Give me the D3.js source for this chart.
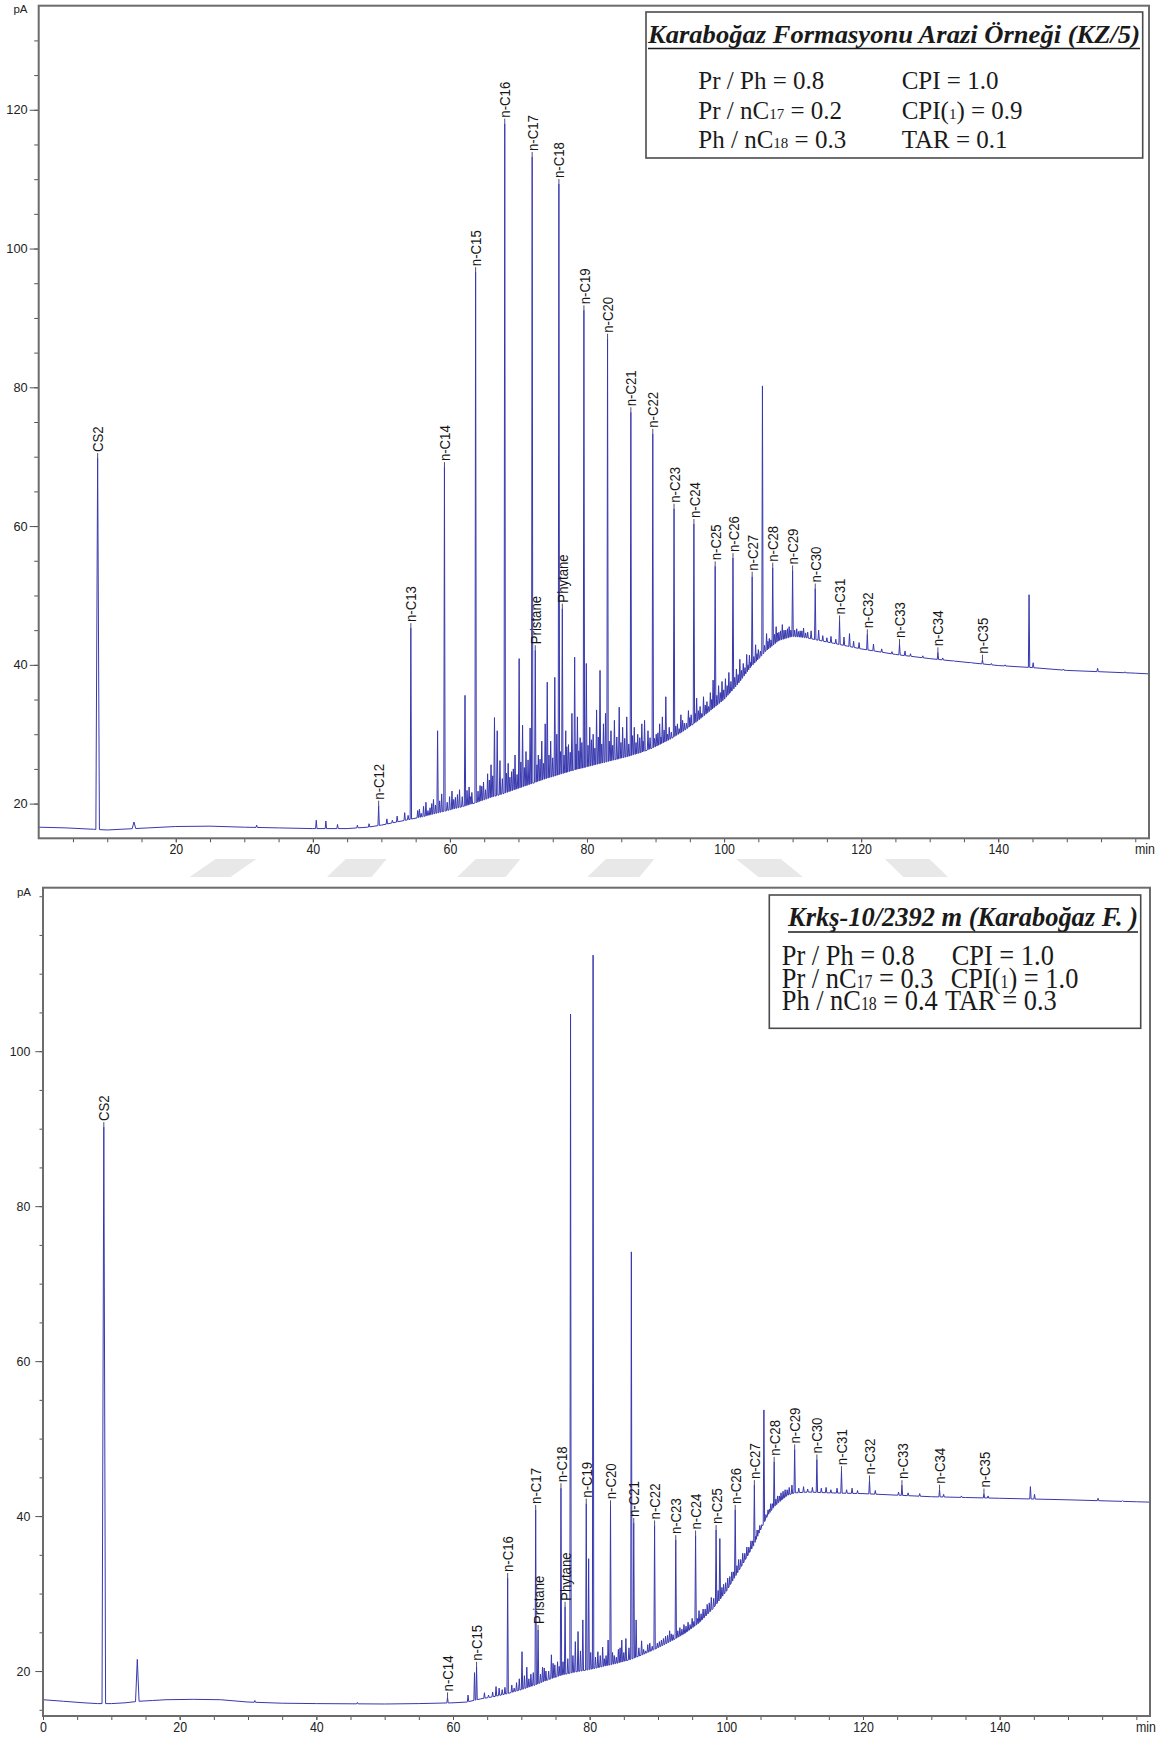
<!DOCTYPE html>
<html>
<head>
<meta charset="utf-8">
<script src="https://cdn.jsdelivr.net/npm/d3@7"></script>
<style>
  html, body { margin: 0; background: #fff; }
  svg { display: block; }
  .tick text { fill: #222; }
</style>
</head>
<body>
<svg id="chart" width="1158" height="1742"></svg>
<script>
// ---------------------------------------------------------------
// Retention-time axis (min) and signal axis (pA) tick labels
// ---------------------------------------------------------------
const upperTimeLabels = [20, 40, 60, 80, 100, 120, 140];
const lowerTimeLabels = [0, 20, 40, 60, 80, 100, 120, 140];
const upperSignalLabels = [20, 40, 60, 80, 100, 120];
const lowerSignalLabels = [20, 40, 60, 80, 100];

// ---------------------------------------------------------------
// Upper chromatogram: Karaboğaz Formasyonu, KZ/5
// ---------------------------------------------------------------
// baseline / unresolved hump  [time (min), signal (pA)]
const upperBaseline = [
  [0,16.6],[4,16.5],[8,16.3],[10,16.2],[12,16.3],[16,16.5],[20,16.7],[25,16.75],[30,16.6],
  [35,16.5],[40,16.4],[45,16.4],[48,16.6],[50,16.9],[52,17.3],[54,17.7],[56,18.1],[58,18.6],
  [60,19.1],[62,19.6],[64,20.2],[66,20.9],[68,21.5],[70,22.2],[72,22.9],[74,23.6],[76,24.2],
  [78,24.8],[80,25.3],[82,25.8],[84,26.3],[86,26.8],[88,27.4],[90,28.2],[92,29.2],[94,30.4],
  [96,31.8],[98,33.4],[100,35.0],[102,37.2],[104,39.8],[105,40.8],[106,41.9],[108,43.5],
  [110,44.1],[112,43.9],[114,43.5],[116,43.1],[118,42.7],[120,42.3],[125,41.5],[130,40.9],
  [135,40.4],[140,39.9],[145,39.6],[150,39.2],[155,39.0],[160,38.8],[162,38.7]
];
// identified peaks
const upperPeakNames = ["CS2","n-C12","n-C13","n-C14","n-C15","n-C16","n-C17","Pristane","n-C18","Phytane",
  "n-C19","n-C20","n-C21","n-C22","n-C23","n-C24","n-C25","n-C26","n-C27","n-C28","n-C29","n-C30",
  "n-C31","n-C32","n-C33","n-C34","n-C35"];
const upperPeakTimes = [8.6,49.6,54.3,59.2,63.75,68.0,72.0,72.45,75.9,76.4,
  79.55,83.0,86.4,89.6,92.7,95.6,98.7,101.3,104.1,107.1,110.0,113.3,
  116.85,120.9,125.6,131.2,137.7];
const upperPeakHeights = [69.8,19.7,45.3,68.5,96.6,118.0,113.2,42.1,109.3,48.1,
  91.1,87.0,76.4,73.3,62.5,60.3,54.2,55.4,52.7,54.0,53.6,51.0,
  46.4,44.4,43.0,41.8,40.75];
// unidentified peaks  [time, apex]
const upperOtherPeaks = [
  [13.9,17.35],[31.8,16.9],[40.5,17.6],[41.9,17.5],[43.6,17.0],[46.5,16.9],[48.2,17.1],
  [50.8,17.8],[51.6,17.6],[52.3,18.2],[53.4,18.7],[53.9,18.3],[55.3,19.0],[55.8,18.6],
  [56.5,20.2],[57.1,19.4],[57.6,20.6],[58.2,30.5],[58.8,21.4],[59.6,20.2],[60.3,21.8],
  [60.8,20.9],[61.4,22.0],[62.2,35.6],[62.8,22.4],[63.2,21.6],[64.4,22.6],[64.9,23.1],
  [65.5,24.3],[66.0,25.6],[66.5,32.4],[66.9,30.5],[67.3,26.2],[68.5,25.8],[69.0,24.6],
  [69.5,27.0],[70.1,40.9],[70.6,31.3],[71.1,27.5],[71.7,30.9],[72.9,27.0],[73.4,29.0],
  [73.9,31.5],[74.2,37.5],[74.7,29.0],[75.3,38.2],[75.6,30.0],[76.9,30.5],[77.3,28.5],
  [77.8,33.0],[78.2,41.1],[78.6,32.5],[79.0,29.5],[79.9,40.2],[80.4,31.0],[80.9,30.0],
  [81.4,33.5],[81.9,39.2],[82.4,31.5],[82.7,33.0],[83.5,30.5],[84.0,32.0],[84.7,33.9],
  [85.2,31.0],[85.8,32.5],[86.9,31.0],[87.4,30.0],[88.0,31.5],[88.4,32.0],[88.9,30.5],
  [89.2,29.5],[90.1,30.0],[90.6,31.5],[91.0,32.5],[91.5,35.4],[92.0,31.0],[92.3,30.3],
  [93.2,31.5],[93.7,32.8],[94.2,31.6],[94.8,33.4],[95.2,32.8],[96.0,35.2],[96.5,34.0],
  [97.0,35.4],[97.5,34.7],[98.0,36.0],[98.4,37.8],[99.2,37.0],[99.7,37.6],[100.2,38.0],
  [100.7,38.9],[101.8,39.4],[102.3,40.8],[102.8,40.2],[103.3,41.5],[103.7,41.4],
  [104.6,42.9],[105.0,42.2],[105.6,80.2],[106.2,44.5],[106.6,43.8],[107.6,45.5],[108.0,44.7],
  [108.5,45.8],[109.0,45.0],[109.5,45.5],[110.6,45.2],[111.1,44.9],[111.6,45.3],[112.2,44.7],
  [112.7,44.9],[113.8,45.0],[114.4,44.2],[115.0,43.9],[115.6,44.1],[116.3,43.7],[117.5,44.0],
  [118.3,44.5],[118.9,43.4],[119.7,43.2],[121.8,43.0],[123.0,42.3],[124.5,41.9],[126.4,42.0],
  [127.2,41.6],[129.0,41.3],[131.9,41.0],[133.5,40.6],[136.0,40.4],[139.0,40.2],[141.0,40.0],
  [144.5,50.1],[145.1,40.3],[149.5,39.4],[154.5,39.5],[158.5,39.0]
];
// small unresolved components riding on the hump
const upperHumpPeaks = [
  [55.55,19.2],[56.15,19.6],[56.8,19.0],[57.35,20.0],[57.9,19.8],[58.5,20.4],[59.95,21.0],
  [60.55,20.6],[61.1,21.3],[61.8,21.0],[62.5,21.9],[63.0,21.0],[64.1,21.8],[64.65,22.5],
  [65.2,22.0],[65.75,23.4],[66.25,24.0],[67.65,23.6],[68.25,24.4],[68.75,23.8],[69.25,25.0],
  [69.8,24.2],[70.35,26.0],[70.85,25.2],[71.4,26.3],[72.7,25.6],[73.15,26.4],[73.65,25.8],
  [74.45,27.0],[75.0,26.6],[76.15,27.5],[76.65,27.0],[77.05,28.2],[77.55,27.4],[78.4,28.6],
  [78.8,27.6],[79.25,28.8],[80.15,28.4],[80.65,29.2],[81.15,28.0],[81.65,29.6],[82.15,28.6],
  [83.25,29.0],[83.75,28.4],[84.35,29.6],[84.95,28.8],[85.5,29.4],[86.1,28.6],[86.65,29.8],
  [87.15,28.8],[87.7,29.5],[88.2,29.0],[89.85,29.4],[90.35,30.2],[90.8,29.6],[91.25,30.6],
  [91.75,30.0],[92.95,31.2],[93.45,30.8],[93.95,32.0],[94.5,31.6],[95.0,32.4],[95.8,33.0],
  [96.25,33.4],[96.75,33.0],[97.25,34.2],[97.75,34.0],[98.2,35.0],[98.95,35.6],[99.45,36.0],
  [99.95,36.4],[100.45,37.0],[101.0,37.6],[101.55,38.2],[102.05,38.6],[102.55,39.2],
  [103.05,39.6],[103.5,40.0],[103.9,40.4],[104.35,41.2],[104.8,41.6],[105.3,42.0],[105.9,42.8],
  [106.4,43.4],[106.85,43.6],[107.35,44.4],[107.8,44.6],[108.25,44.9],[108.75,45.0],
  [109.25,45.2],[109.75,45.0],[110.3,45.0],[110.85,44.8],[111.35,44.9],[111.9,44.6]
];
const upperNoteTitle = "Karaboğaz Formasyonu Arazi Örneği (KZ/5)";
const upperNoteRows = [
  ["Pr / Ph = 0.8", "CPI = 1.0"],
  ["Pr / nC_17 = 0.2", "CPI(_1) = 0.9"],
  ["Ph / nC_18 = 0.3", "TAR = 0.1"]
];

// ---------------------------------------------------------------
// Lower chromatogram: Krkş-10 well, 2392 m
// ---------------------------------------------------------------
const lowerBaseline = [
  [0,16.3],[3,16.1],[6,15.9],[8,15.8],[10,15.8],[12,15.9],[14,16.1],[16,16.2],[18,16.3],
  [22,16.35],[26,16.3],[30,16.0],[35,15.85],[40,15.8],[50,15.75],[55,15.8],[60,15.9],
  [62,16.0],[64,16.4],[66,16.7],[68,17.1],[70,17.6],[72,18.2],[74,18.9],[76,19.5],[78,19.9],
  [80,20.2],[82,20.6],[84,21.0],[86,21.5],[88,22.2],[90,23.0],[92,23.9],[94,24.9],[96,26.2],
  [98,28.0],[100,30.3],[102,33.2],[104,36.2],[105,38.2],[106,40.0],[107,41.2],[108,42.0],
  [109,42.7],[110,43.0],[112,43.1],[115,43.0],[120,42.9],[125,42.7],[130,42.5],[135,42.4],
  [140,42.3],[150,42.1],[160,41.85],[162,41.8]
];
const lowerPeakNames = ["CS2","n-C14","n-C15","n-C16","n-C17","Pristane","n-C18","Phytane",
  "n-C19","n-C20","n-C21","n-C22","n-C23","n-C24","n-C25","n-C26","n-C27","n-C28","n-C29",
  "n-C30","n-C31","n-C32","n-C33","n-C34","n-C35"];
const lowerPeakTimes = [8.9,59.2,63.45,68.0,72.1,72.45,75.8,76.4,
  79.5,83.05,86.45,89.5,92.6,95.5,98.5,101.3,104.1,107.0,110.0,
  113.25,116.85,120.95,125.7,131.2,137.7];
const lowerPeakHeights = [90.2,16.6,20.55,32.0,40.8,25.3,43.6,28.3,
  41.6,41.4,39.1,38.8,36.9,37.5,38.2,40.8,44.0,47.0,48.6,
  47.3,45.8,44.6,44.0,43.4,42.9];
const lowerOtherPeaks = [
  [13.8,21.5],[31.0,16.2],[46.0,15.95],[62.2,16.9],[63.15,19.8],[65.8,17.3],[66.3,18.0],
  [67.2,17.6],[69.3,18.5],[70.1,22.5],[70.8,20.5],[71.4,19.6],[73.1,20.5],[73.6,20.0],
  [74.4,22.1],[74.9,20.8],[75.3,21.2],[77.2,104.8],[77.9,23.8],[78.3,25.1],[79.0,26.6],
  [79.85,34.5],[80.5,112.4],[81.2,22.5],[81.9,23.1],[82.4,22.0],[82.7,24.0],[83.6,22.0],
  [84.2,22.8],[84.7,24.0],[85.3,24.2],[85.75,23.0],[86.1,74.1],[86.8,26.6],[87.6,23.9],
  [88.2,22.6],[88.8,23.6],[89.9,23.6],[90.5,24.0],[91.1,24.5],[91.7,25.2],[92.2,24.7],
  [93.2,25.6],[93.8,26.0],[94.4,26.3],[95.0,26.8],[96.0,27.8],[96.6,28.0],[97.2,28.6],
  [97.8,29.5],[99.05,37.1],[99.6,31.2],[100.2,32.0],[100.8,32.8],[101.8,34.4],[102.4,35.2],
  [103.0,36.0],[103.6,36.8],[104.5,38.2],[104.9,38.8],[105.5,53.7],[106.1,40.8],[106.5,41.6],
  [107.5,42.6],[108.0,43.0],[108.6,43.4],[109.2,43.7],[109.6,44.0],[110.6,43.6],[111.3,43.8],
  [111.9,43.5],[112.6,43.7],[113.9,43.6],[114.6,43.7],[115.3,43.4],[116.2,43.6],[117.6,43.4],
  [118.4,43.6],[119.2,43.3],[121.8,43.3],[125.2,43.1],[126.6,43.0],[128.3,42.9],[131.8,42.8],
  [134.4,42.6],[138.3,42.6],[144.5,43.8],[145.1,42.8],[154.4,42.3],[158.0,42.0]
];
const lowerHumpPeaks = [
  [64.6,17.2],[65.2,16.9],[66.75,17.8],[67.6,17.9],[68.6,18.2],[68.95,17.8],[69.7,19.0],
  [70.45,19.4],[71.1,19.0],[71.75,19.8],[72.8,19.6],[73.35,20.4],[74.0,20.0],[74.65,21.0],
  [75.55,20.6],[76.1,21.2],[76.8,21.6],[77.55,22.0],[78.65,22.6],[80.15,22.4],[80.85,21.8],
  [81.55,22.0],[82.15,21.6],[83.35,22.4],[83.9,21.8],[84.45,23.0],[85.0,22.4],[87.2,23.0],
  [87.9,22.8],[88.5,23.4],[89.15,23.2],[90.2,23.8],[90.8,24.2],[91.4,24.6],[91.95,24.8],
  [92.9,25.2],[93.5,25.4],[94.1,25.8],[94.7,26.0],[95.25,26.4],[95.75,26.8],[96.3,27.4],
  [96.9,28.0],[97.5,28.8],[98.15,29.4],[98.8,30.4],[99.35,30.8],[99.9,31.4],[100.5,32.2],
  [101.05,32.8],[101.55,33.6],[102.1,34.4],[102.7,35.2],[103.3,36.0],[103.85,36.8],
  [104.3,37.4],[104.7,38.2],[105.2,38.9],[105.8,40.2],[106.3,40.9],[106.75,41.6],
  [107.25,42.2],[107.75,42.6],[108.3,43.2],[108.9,43.4]
];
const lowerNoteTitle = "Krkş-10/2392 m (Karaboğaz F. )";
const lowerNoteRows = [
  ["Pr / Ph = 0.8", "CPI = 1.0"],
  ["Pr / nC_17 = 0.3", "CPI(_1) = 1.0"],
  ["Ph / nC_18 = 0.4", "TAR = 0.3"]
];

// ---------------------------------------------------------------
// Drawing
// ---------------------------------------------------------------
const svg = d3.select("#chart");
const SANS = "'Liberation Sans', Arial, Helvetica, sans-serif";
const SERIF = "'Liberation Serif', 'Times New Roman', Times, serif";
const TRACE = "#3838ae";

// faint light-grey chevrons in the gap between the two panels
const bandShapes = [
  [[189.6,877],[230.5,877],[256.5,859],[215.6,859]],
  [[327,877],[371.7,877],[386.6,859],[345.7,859]],
  [[457.2,877],[505.6,877],[520.4,859],[475.8,859]],
  [[587.4,877],[639.4,877],[654.3,859],[606,859]],
  [[758.4,877],[803,877],[780.7,859],[736,859]],
  [[903.3,877],[948,877],[929.4,859],[884.8,859]]
];
svg.append("g").selectAll("polygon").data(bandShapes).join("polygon")
  .attr("points", d => d.map(p => p.join(",")).join(" "))
  .attr("fill", "#e8e8e8");

// signal of the baseline table at time t (straight segments between listed points)
function baselineAt(table, t) {
  const i = d3.bisector(d => d[0]).left(table, t);
  if (i <= 0) return table[0][1];
  if (i >= table.length) return table[table.length - 1][1];
  const a = table[i - 1], b = table[i];
  return a[1] + (b[1] - a[1]) * (t - a[0]) / (b[0] - a[0]);
}

// trace vertices: baseline points plus a narrow spike for every peak
function buildTrace(baseline, peaks) {
  const half = p => (p[0] < 20 ? 0.26 : 0.1);
  const pts = baseline.filter(([t]) => !peaks.some(p => Math.abs(t - p[0]) < half(p)));
  peaks.forEach(p => {
    const h = half(p);
    pts.push([p[0] - h, baselineAt(baseline, p[0] - h)], [p[0], p[1]], [p[0] + h, baselineAt(baseline, p[0] + h)]);
  });
  return pts.sort((a, b) => a[0] - b[0]);
}

function drawPanel(cfg) {
  const x = d3.scaleLinear().domain([0, 162]).range([cfg.left, cfg.right]);
  const y = d3.scaleLinear().domain(cfg.yDomain).range([cfg.bottom, cfg.top]);
  const g = svg.append("g");

  g.append("clipPath").attr("id", "clip-" + cfg.id)
    .append("rect").attr("x", cfg.left).attr("y", cfg.top)
    .attr("width", cfg.right - cfg.left).attr("height", cfg.bottom - cfg.top);

  // chromatogram trace
  const named = cfg.names.map((n, i) => [cfg.times[i], cfg.heights[i]]);
  const trace = buildTrace(cfg.baseline, named.concat(cfg.others, cfg.hump));
  g.append("path").datum(trace)
    .attr("clip-path", `url(#clip-${cfg.id})`)
    .attr("fill", "none").attr("stroke", TRACE).attr("stroke-width", 1)
    .attr("d", d3.line().x(d => x(d[0])).y(d => y(d[1])));

  // time axis: minor ticks every 5 min, labels every 20 min
  const xMinor = g.append("g").attr("transform", `translate(0,${cfg.bottom})`)
    .call(d3.axisBottom(x).tickValues(d3.range(5, 161, 5)).tickSize(4).tickFormat(""));
  const xMajor = g.append("g").attr("transform", `translate(0,${cfg.bottom})`)
    .call(d3.axisBottom(x).tickValues(cfg.xLabels).tickSize(4).tickPadding(1).tickFormat(d3.format("d")));
  [xMinor, xMajor].forEach(a => {
    a.select(".domain").remove();
    a.selectAll("line").attr("stroke", "#555");
  });
  xMajor.selectAll("text")
    .attr("font-family", SANS).attr("font-size", 15.5)
    .attr("transform", "scale(0.8,1)")
    .attr("x", 0);
  g.append("text")
    .attr("transform", `translate(${cfg.right - 4},${cfg.bottom + 16}) scale(0.8,1)`)
    .attr("text-anchor", "middle").attr("font-family", SANS).attr("font-size", 15.5)
    .attr("fill", "#222").text("min");

  // signal axis: minor ticks every 5 pA, labels every 20 pA
  const yMinor = g.append("g").attr("transform", `translate(${cfg.left},0)`)
    .call(d3.axisLeft(y).tickValues(cfg.yMinor).tickSize(cfg.minorLen).tickFormat(""));
  const yMajor = g.append("g").attr("transform", `translate(${cfg.left},0)`)
    .call(d3.axisLeft(y).tickValues(cfg.yLabels).tickSize(cfg.majorLen).tickPadding(cfg.yPad));
  [yMinor, yMajor].forEach(a => {
    a.select(".domain").remove();
    a.selectAll("line").attr("stroke", "#555");
  });
  yMajor.selectAll("text").attr("font-family", SANS).attr("font-size", cfg.yFont);
  g.append("text")
    .attr("x", cfg.unitX).attr("y", cfg.unitY)
    .attr("text-anchor", "end").attr("font-family", SANS).attr("font-size", 11.5)
    .attr("fill", "#222").text("pA");

  // frame
  g.append("rect")
    .attr("x", cfg.left).attr("y", cfg.top)
    .attr("width", cfg.right - cfg.left).attr("height", cfg.bottom - cfg.top)
    .attr("fill", "none").attr("stroke", "#6c6c6c").attr("stroke-width", 2);

  // peak names written upward from each apex
  const labels = g.append("g").selectAll("g").data(cfg.names.map((n, i) => ({ name: n, t: cfg.times[i], v: cfg.heights[i] })))
    .join("g").attr("transform", d => `translate(${x(d.t)},${y(d.v)})`);
  labels.append("line").attr("y1", 0).attr("y2", -5).attr("stroke", "#3a3a60").attr("stroke-width", 0.9);
  labels.append("text")
    .attr("transform", "translate(0,-6) rotate(-90) scale(0.85,1)")
    .attr("dy", "0.36em").attr("font-family", SANS).attr("font-size", 15.5)
    .attr("fill", "#161616").text(d => d.name);
}

// one line of the information box; "_17" marks a small index
function writeRow(sel, str, fs) {
  str.split(/(_\d+)/).filter(s => s.length).forEach(part => {
    if (part[0] === "_") sel.append("tspan").attr("font-size", fs * 0.6).text(part.slice(1));
    else sel.append("tspan").text(part);
  });
}

function drawNote(n) {
  const g = svg.append("g");
  g.append("rect").attr("x", n.box[0]).attr("y", n.box[1])
    .attr("width", n.box[2] - n.box[0]).attr("height", n.box[3] - n.box[1])
    .attr("fill", "#fff").attr("stroke", "#4b4b4b").attr("stroke-width", 1.6);
  g.append("text")
    .attr("x", n.titleX).attr("y", n.titleY)
    .attr("font-family", SERIF).attr("font-weight", "bold").attr("font-style", "italic")
    .attr("font-size", n.titleFont).attr("fill", "#1a1a1a")
    .attr("textLength", n.titleW).attr("lengthAdjust", "spacingAndGlyphs")
    .text(n.title);
  g.append("line")
    .attr("x1", n.titleX).attr("x2", n.titleX + n.titleW)
    .attr("y1", n.titleY + 6).attr("y2", n.titleY + 6)
    .attr("stroke", "#1a1a1a").attr("stroke-width", 1.6);
  n.rows.forEach((row, r) => {
    row.forEach((cell, c) => {
      const t = g.append("text")
        .attr("transform", `translate(${n.colX[r][c]},${n.rowY[r]}) scale(${n.sx},1)`)
        .attr("font-family", SERIF).attr("font-size", n.rowFont).attr("fill", "#1a1a1a");
      writeRow(t, cell, n.rowFont);
    });
  });
}

drawPanel({
  id: "upper", left: 38.7, right: 1149, top: 5.7, bottom: 838.3, yDomain: [15, 135],
  baseline: upperBaseline, names: upperPeakNames, times: upperPeakTimes, heights: upperPeakHeights,
  others: upperOtherPeaks, hump: upperHumpPeaks, xLabels: upperTimeLabels, yLabels: upperSignalLabels,
  yMinor: d3.range(20, 131, 5), majorLen: 9, minorLen: 4.5, yPad: 2, yFont: 12.8,
  unitX: 27.5, unitY: 12.5
});
drawPanel({
  id: "lower", left: 43, right: 1150, top: 887.7, bottom: 1716, yDomain: [14.2, 121.1],
  baseline: lowerBaseline, names: lowerPeakNames, times: lowerPeakTimes, heights: lowerPeakHeights,
  others: lowerOtherPeaks, hump: lowerHumpPeaks, xLabels: lowerTimeLabels, yLabels: lowerSignalLabels,
  yMinor: d3.range(15, 121, 5), majorLen: 7.7, minorLen: 3.5, yPad: 5, yFont: 12.4,
  unitX: 31, unitY: 895.5
});

drawNote({
  box: [646, 12, 1142.7, 158], title: upperNoteTitle, titleX: 648, titleY: 42.5, titleW: 492, titleFont: 26,
  rows: upperNoteRows, rowFont: 25, sx: 1,
  rowY: [89, 118.5, 148], colX: [[698.3, 901.7], [698.3, 901.7], [698.3, 901.7]]
});
drawNote({
  box: [769.3, 895, 1140.7, 1028.3], title: lowerNoteTitle, titleX: 788, titleY: 926, titleW: 350, titleFont: 27,
  rows: lowerNoteRows, rowFont: 30, sx: 0.88,
  rowY: [965, 987.5, 1010], colX: [[781.7, 951.7], [781.7, 950.7], [781.7, 945]]
});
</script>
</body>
</html>
